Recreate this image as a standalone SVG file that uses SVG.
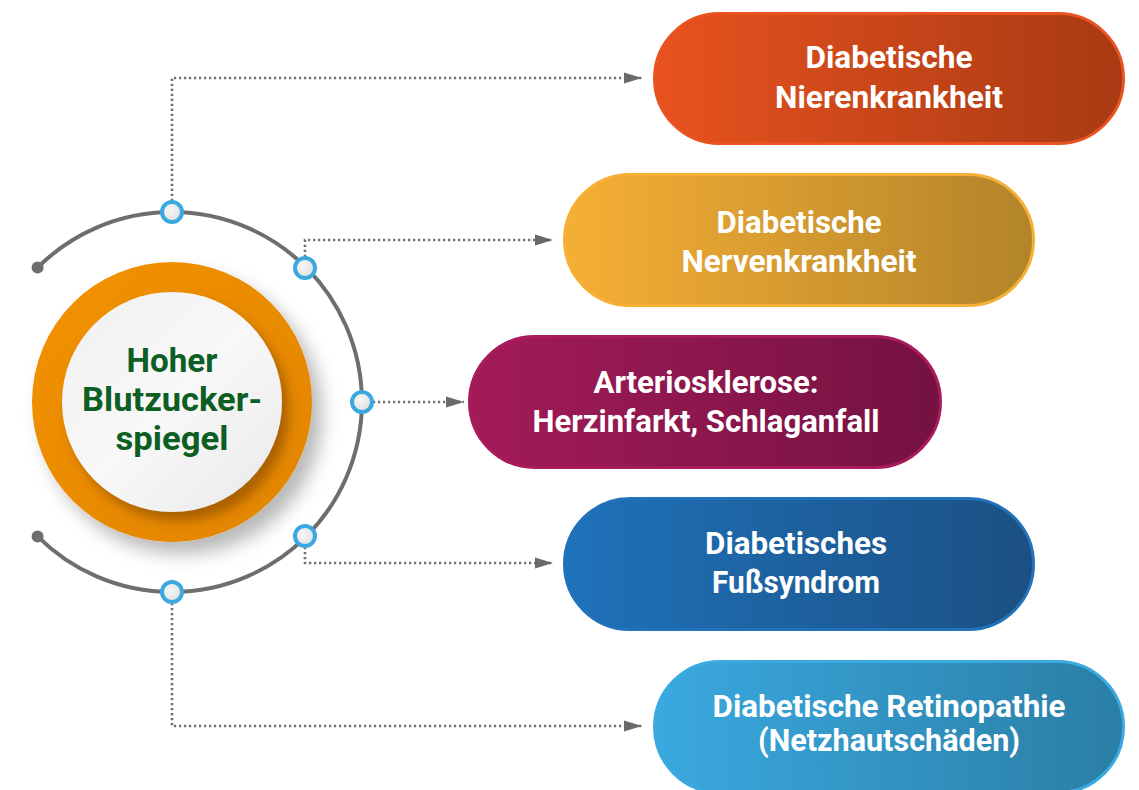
<svg xmlns="http://www.w3.org/2000/svg" width="1139" height="790" viewBox="0 0 1139 790">
  <defs>
    <style>
      .pill-text { font-family: Roboto, "Liberation Sans", "DejaVu Sans", sans-serif; font-weight: 700; font-size: 31px; fill: #ffffff; text-anchor: middle; }
      .hub-text { font-family: Roboto, "Liberation Sans", "DejaVu Sans", sans-serif; font-weight: 700; font-size: 34px; fill: #0d5e22; text-anchor: middle; }
      .link { fill: none; stroke: #707070; stroke-width: 2.6; stroke-dasharray: 2.2 2.8; }
      .orbit { fill: none; stroke: #6e6e6e; stroke-width: 4; }
      .port { fill: url(#portFill); stroke: #3aa9e0; stroke-width: 4; }
    </style>
    <marker id="arrow" markerUnits="userSpaceOnUse" markerWidth="19" markerHeight="12" refX="18" refY="6" orient="auto">
      <path d="M0,0.5 L18,6 L0,11.5 Z" fill="#6a6a6a"/>
    </marker>
    <linearGradient id="gRed" x1="0" y1="0" x2="1" y2="0">
      <stop offset="0" stop-color="#e8521f"/>
      <stop offset="1" stop-color="#a83a13"/>
    </linearGradient>
    <linearGradient id="gYellow" x1="0" y1="0" x2="1" y2="0">
      <stop offset="0" stop-color="#f6af35"/>
      <stop offset="1" stop-color="#b3842a"/>
    </linearGradient>
    <linearGradient id="gMagenta" x1="0" y1="0" x2="1" y2="0">
      <stop offset="0" stop-color="#a31b59"/>
      <stop offset="1" stop-color="#741241"/>
    </linearGradient>
    <linearGradient id="gBlue" x1="0" y1="0" x2="1" y2="0">
      <stop offset="0" stop-color="#1f72ba"/>
      <stop offset="1" stop-color="#1b5083"/>
    </linearGradient>
    <linearGradient id="gSky" x1="0" y1="0" x2="1" y2="0">
      <stop offset="0" stop-color="#3aa9e0"/>
      <stop offset="1" stop-color="#2a7ea5"/>
    </linearGradient>
    <linearGradient id="gRing" x1="0" y1="0" x2="1" y2="1">
      <stop offset="0" stop-color="#f39200"/>
      <stop offset="1" stop-color="#e18500"/>
    </linearGradient>
    <linearGradient id="gCore" x1="0" y1="0" x2="1" y2="1">
      <stop offset="0" stop-color="#f0f0f0"/>
      <stop offset="0.5" stop-color="#f8f8f8"/>
      <stop offset="1" stop-color="#e9e9e9"/>
    </linearGradient>
    <radialGradient id="portFill" cx="0.4" cy="0.4" r="0.7">
      <stop offset="0" stop-color="#f7f7f7"/>
      <stop offset="1" stop-color="#dcdcdc"/>
    </radialGradient>
    <filter id="ringShadow" x="-30%" y="-30%" width="170%" height="170%">
      <feGaussianBlur in="SourceAlpha" stdDeviation="9"/>
      <feOffset dx="10" dy="12" result="b"/>
      <feFlood flood-color="#000" flood-opacity="0.28"/>
      <feComposite in2="b" operator="in"/>
      <feMerge><feMergeNode/><feMergeNode in="SourceGraphic"/></feMerge>
    </filter>
    <filter id="coreShadow" x="-30%" y="-30%" width="170%" height="170%">
      <feGaussianBlur in="SourceAlpha" stdDeviation="6"/>
      <feOffset dx="7" dy="9" result="b"/>
      <feFlood flood-color="#7a3f00" flood-opacity="0.55"/>
      <feComposite in2="b" operator="in"/>
      <feMerge><feMergeNode/><feMergeNode in="SourceGraphic"/></feMerge>
    </filter>
  </defs>

  <rect width="1139" height="790" fill="#ffffff"/>

  <!-- dotted connectors from the orbit ports to the outcome pills -->
  <g id="connectors">
    <path class="link" d="M172,201 V78 H642" marker-end="url(#arrow)"/>
    <path class="link" d="M305,257 V240 H553" marker-end="url(#arrow)"/>
    <path class="link" d="M373,402 H464" marker-end="url(#arrow)"/>
    <path class="link" d="M305,547 V563 H553" marker-end="url(#arrow)"/>
    <path class="link" d="M172,603 V726 H642" marker-end="url(#arrow)"/>
  </g>

  <!-- orbit arc with end caps and ports -->
  <g id="orbit">
    <path class="orbit" d="M37.6,267.6 A190,190 0 1 1 37.6,536.4"/>
    <circle cx="37.6" cy="267.6" r="6" fill="#6e6e6e"/>
    <circle cx="37.6" cy="536.4" r="6" fill="#6e6e6e"/>
    <circle class="port" cx="172" cy="212" r="10"/>
    <circle class="port" cx="305" cy="268" r="10"/>
    <circle class="port" cx="362" cy="402" r="10"/>
    <circle class="port" cx="305" cy="536" r="10"/>
    <circle class="port" cx="172" cy="592" r="10"/>
  </g>

  <!-- central hub -->
  <g id="hub">
    <circle cx="172" cy="402" r="140" fill="url(#gRing)" filter="url(#ringShadow)"/>
    <circle cx="172" cy="402" r="110" fill="url(#gCore)" filter="url(#coreShadow)"/>
    <text class="hub-text" x="172" y="372" textLength="91" lengthAdjust="spacingAndGlyphs">Hoher</text>
    <text class="hub-text" x="172" y="411" textLength="180" lengthAdjust="spacingAndGlyphs">Blutzucker-</text>
    <text class="hub-text" x="172" y="450" textLength="113" lengthAdjust="spacingAndGlyphs">spiegel</text>
  </g>

  <g id="node-niere">
    <rect x="654.5" y="13.5" width="469" height="130" rx="65" fill="url(#gRed)" stroke="#e8531f" stroke-width="3"/>
    <text class="pill-text" x="889" y="68" textLength="167" lengthAdjust="spacingAndGlyphs">Diabetische</text>
    <text class="pill-text" x="889" y="108" textLength="228" lengthAdjust="spacingAndGlyphs">Nierenkrankheit</text>
  </g>

  <g id="node-nerven">
    <rect x="564.5" y="174.5" width="469" height="131" rx="65.5" fill="url(#gYellow)" stroke="#f5b035" stroke-width="3"/>
    <text class="pill-text" x="799" y="233" textLength="165" lengthAdjust="spacingAndGlyphs">Diabetische</text>
    <text class="pill-text" x="799" y="272" textLength="235" lengthAdjust="spacingAndGlyphs">Nervenkrankheit</text>
  </g>

  <g id="node-arterio">
    <rect x="469.5" y="336.5" width="471" height="131" rx="65.5" fill="url(#gMagenta)" stroke="#a81b5d" stroke-width="3"/>
    <text class="pill-text" x="706" y="393" textLength="225" lengthAdjust="spacingAndGlyphs">Arteriosklerose:</text>
    <text class="pill-text" x="706" y="432" textLength="347" lengthAdjust="spacingAndGlyphs">Herzinfarkt, Schlaganfall</text>
  </g>

  <g id="node-fuss">
    <rect x="564.5" y="498.5" width="469" height="131" rx="65.5" fill="url(#gBlue)" stroke="#2272bb" stroke-width="3"/>
    <text class="pill-text" x="796" y="554" textLength="182" lengthAdjust="spacingAndGlyphs">Diabetisches</text>
    <text class="pill-text" x="796" y="593" textLength="168" lengthAdjust="spacingAndGlyphs">Fußsyndrom</text>
  </g>

  <g id="node-retina">
    <rect x="654.5" y="661.5" width="469" height="131" rx="65.5" fill="url(#gSky)" stroke="#3aaae1" stroke-width="3"/>
    <text class="pill-text" x="889" y="717" textLength="353" lengthAdjust="spacingAndGlyphs">Diabetische Retinopathie</text>
    <text class="pill-text" x="889" y="751" textLength="262" lengthAdjust="spacingAndGlyphs">(Netzhautschäden)</text>
  </g>
</svg>
